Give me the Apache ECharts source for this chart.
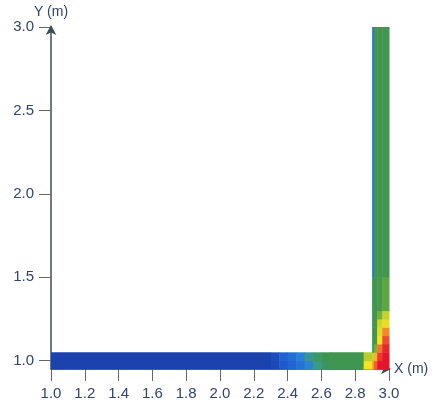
<!DOCTYPE html>
<html>
<head>
<meta charset="utf-8">
<script src="https://cdn.jsdelivr.net/npm/echarts@6/dist/echarts.min.js"></script>
<style>
  html, body { margin: 0; padding: 0; background: #fff; }
  #chart { width: 435px; height: 411px; }
</style>
</head>
<body>
<div id="chart"></div>
<script>
// Horizontal leg of the L-section (y from 0.95 to 1.05 m), column edges along X
const hxEdges = [1.0, 2.3, 2.35, 2.4, 2.45, 2.5, 2.55, 2.6, 2.65, 2.85, 2.9];
const hyEdges = [0.95, 1.0, 1.05];
// Relative field level per column, lower row then upper row
const hLower = [0.04, 0.1, 0.17, 0.21, 0.25, 0.31, 0.4, 0.48, 0.53, 0.8];
const hUpper = [0.04, 0.12, 0.2, 0.24, 0.3, 0.38, 0.46, 0.52, 0.54, 0.7];

// Vertical leg (x from 2.9 to 3.0 m), edges along X and Y
const vxEdges = [2.9, 2.91, 2.93, 2.96, 3.0];
const vyEdges = [0.95, 1.0, 1.05, 1.1, 1.15, 1.2, 1.25, 1.3, 1.5, 3.0];
// One list per column, from the bottom up
const vCol0 = [0.85, 0.72, 0.56, 0.54, 0.54, 0.54, 0.54, 0.52, 0.27];
const vCol1 = [0.92, 0.84, 0.64, 0.57, 0.55, 0.55, 0.55, 0.54, 0.53];
const vCol2 = [1.0, 0.96, 0.9, 0.8, 0.77, 0.74, 0.64, 0.58, 0.54];
const vCol3 = [1.0, 1.0, 0.98, 0.94, 0.88, 0.78, 0.72, 0.62, 0.55];

// Axis ticks
const xTicks = [1.0, 1.2, 1.4, 1.6, 1.8, 2.0, 2.2, 2.4, 2.6, 2.8, 3.0];
const yTicks = [1.0, 1.5, 2.0, 2.5, 3.0];

// Build cells: [x0, x1, y0, y1, level]
const cells = [];
const hRows = [hLower, hUpper];
hRows.forEach((row, r) => {
  row.forEach((v, i) => {
    cells.push([hxEdges[i], hxEdges[i + 1], hyEdges[r], hyEdges[r + 1], v]);
  });
});
[vCol0, vCol1, vCol2, vCol3].forEach((col, c) => {
  col.forEach((v, j) => {
    cells.push([vxEdges[c], vxEdges[c + 1], vyEdges[j], vyEdges[j + 1], v]);
  });
});

const labelColor = '#31446a';
const lineColor = '#3c4f58';

const chart = echarts.init(document.getElementById('chart'));
chart.setOption({
  animation: false,
  backgroundColor: '#ffffff',
  grid: { left: 51, right: 46, top: 27, bottom: 42, containLabel: false, outerBoundsMode: 'none' },
  visualMap: {
    show: false,
    type: 'continuous',
    min: 0,
    max: 1,
    dimension: 4,
    inRange: {
      color: ['#1b3ea6', '#1c48b8', '#1f62d0', '#2a80d8', '#3a9a88', '#3c9455',
              '#479a46', '#b6cf2c', '#f3e324', '#f2742a', '#e5142c']
    }
  },
  xAxis: {
    type: 'value',
    min: 1.0,
    max: 3.0,
    interval: 0.2,
    name: 'X (m)',
    nameLocation: 'end',
    nameGap: 5,
    nameTextStyle: { color: labelColor, fontFamily: 'Liberation Sans', fontSize: 14 },
    axisLine: {
      onZero: false,
      lineStyle: { color: lineColor, width: 1.5 },
      symbol: ['none', 'arrow'],
      symbolSize: [8, 10],
      symbolOffset: [0, 2]
    },
    axisTick: { show: true, length: 12, inside: false, customValues: xTicks, lineStyle: { color: '#666' } },
    axisLabel: {
      customValues: xTicks,
      color: labelColor,
      fontFamily: 'Liberation Sans',
      fontSize: 15,
      margin: 17,
      formatter: v => v.toFixed(1)
    },
    splitLine: { show: false }
  },
  yAxis: {
    type: 'value',
    min: 0.95,
    max: 3.0,
    name: 'Y (m)',
    nameLocation: 'end',
    nameGap: 5,
    nameTextStyle: { color: labelColor, fontFamily: 'Liberation Sans', fontSize: 14 },
    axisLine: {
      onZero: false,
      lineStyle: { color: lineColor, width: 1.5 },
      symbol: ['none', 'arrow'],
      symbolSize: [8, 10],
      symbolOffset: [0, 2]
    },
    axisTick: { show: true, length: 12, inside: false, customValues: yTicks, lineStyle: { color: '#666' } },
    axisLabel: {
      customValues: yTicks,
      color: labelColor,
      fontFamily: 'Liberation Sans',
      fontSize: 15,
      margin: 17,
      formatter: v => v.toFixed(1)
    },
    splitLine: { show: false }
  },
  series: [{
    type: 'custom',
    clip: false,
    data: cells,
    encode: { x: [0, 1], y: [2, 3] },
    renderItem: function (params, api) {
      const p0 = api.coord([api.value(0), api.value(2)]);
      const p1 = api.coord([api.value(1), api.value(3)]);
      return {
        type: 'rect',
        shape: {
          x: p0[0],
          y: p1[1],
          width: p1[0] - p0[0] + 0.5,
          height: p0[1] - p1[1] + 0.5
        },
        style: { fill: api.visual('color') }
      };
    }
  }]
});
</script>
</body>
</html>
